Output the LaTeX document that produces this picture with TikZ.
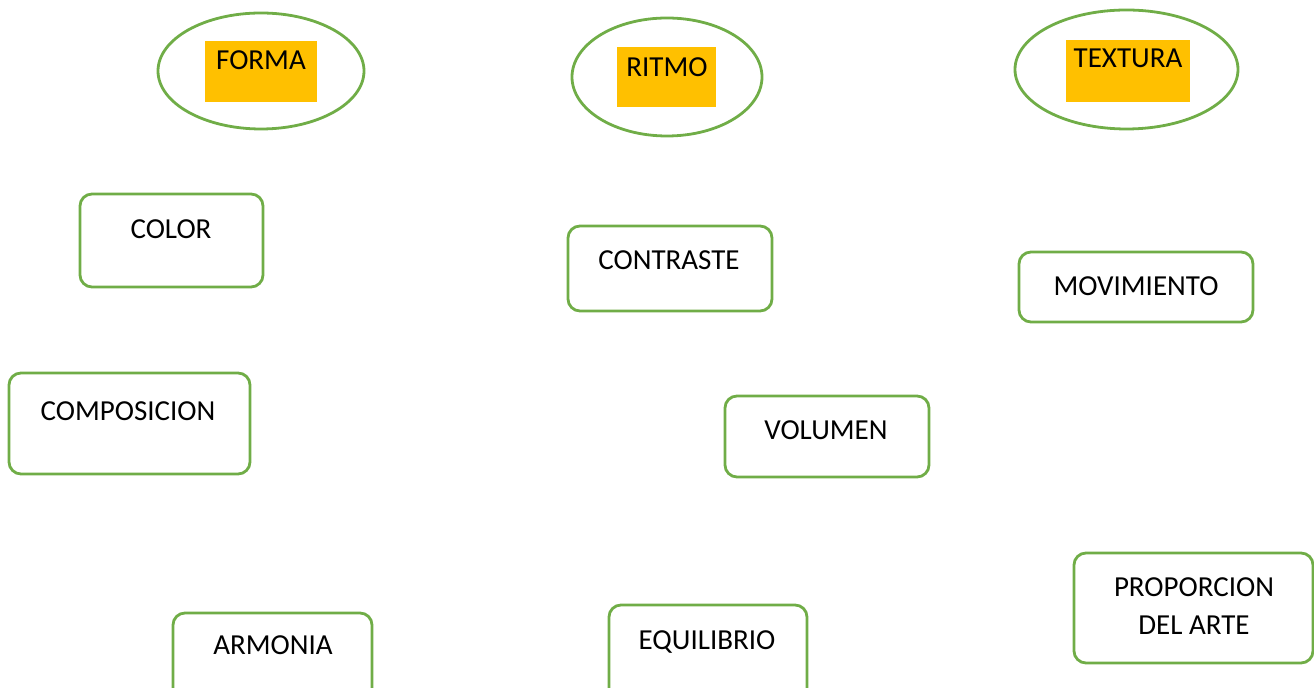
\documentclass[tikz,border=0pt]{standalone}
\usepackage{fontspec}
\setmainfont{Carlito}
\usepackage{tikz}
\usetikzlibrary{shapes.geometric}
\definecolor{verde}{HTML}{70AD47}
\definecolor{naranja}{HTML}{FFC000}

\begin{document}
\begin{tikzpicture}[x=0.5pt,y=-0.5pt,
       elipse/.style={draw=verde, line width=1.4pt, ellipse, inner sep=0pt},
       caja/.style={draw=verde, line width=1.4pt, rounded corners=6pt, inner sep=0pt},
       fondo/.style={fill=naranja, inner sep=0pt},
       texto/.style={anchor=base, inner sep=0pt, font=\fontsize{14.5}{19}\selectfont, align=center}]
       \clip (0,0) rectangle (1314,688);

       % elipses de arriba
       \node[elipse, minimum width=103pt, minimum height=58pt] (forma) at (261,71) {};
       \node[fondo, minimum width=56pt, minimum height=30.5pt] (fforma) at (261,71.5) {};
       \node[texto] (tforma) at (261,70) {FORMA};

       \node[elipse, minimum width=95pt, minimum height=59pt] (ritmo) at (667,77) {};
       \node[fondo, minimum width=49.5pt, minimum height=30pt] (fritmo) at (666.5,77) {};
       \node[texto] (tritmo) at (667,77) {RITMO};

       \node[elipse, minimum width=111.5pt, minimum height=59.5pt] (textura) at (1126.5,69.5) {};
       \node[fondo, minimum width=62pt, minimum height=31pt] (ftextura) at (1128,71) {};
       \node[texto] (ttextura) at (1128,68) {TEXTURA};

       % cajas
       \node[caja, minimum width=91.5pt, minimum height=46.5pt] (color) at (171.5,240.5) {};
       \node[texto] (tcolor) at (171,239) {COLOR};

       \node[caja, minimum width=102pt, minimum height=42.5pt] (contraste) at (670,268.5) {};
       \node[texto] (tcontraste) at (669,270) {CONTRASTE};

       \node[caja, minimum width=117pt, minimum height=35pt] (movimiento) at (1136,287) {};
       \node[texto] (tmovimiento) at (1136,296) {MOVIMIENTO};

       \node[caja, minimum width=120.5pt, minimum height=50.5pt] (composicion) at (129.5,423.5) {};
       \node[texto] (tcomposicion) at (128,421) {COMPOSICION};

       \node[caja, minimum width=102pt, minimum height=40.5pt] (volumen) at (827,436.5) {};
       \node[texto] (tvolumen) at (826,440) {VOLUMEN};

       \node[caja, minimum width=99.5pt, minimum height=50pt] (armonia) at (272.5,663) {};
       \node[texto] (tarmonia) at (273,655) {ARMONIA};

       \node[caja, minimum width=99pt, minimum height=50pt] (equilibrio) at (708,655) {};
       \node[texto] (tequilibrio) at (707,650) {EQUILIBRIO};

       \node[caja, minimum width=119.5pt, minimum height=55pt] (proporcion) at (1193.5,608) {};
       \node[texto] (tproporcion) at (1194,597) {PROPORCION};
       \node[texto] (tarte) at (1194,635) {DEL ARTE};
      \end{tikzpicture}
\end{document}
